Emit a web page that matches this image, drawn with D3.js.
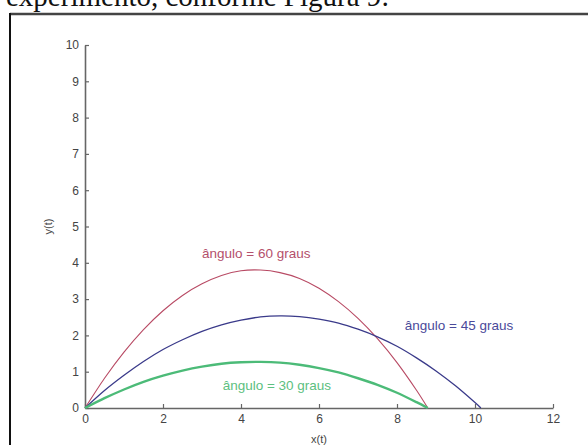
<!DOCTYPE html>
<html>
<head>
<meta charset="utf-8">
<script src="https://cdn.jsdelivr.net/npm/d3@7"></script>
<style>
  body { margin: 0; background: #fff; }
  svg { display: block; }
</style>
</head>
<body>
<svg id="chart"></svg>
<script>
// tick values
let x_ticks = [0, 2, 4, 6, 8, 10, 12];
let y_ticks = [0, 1, 2, 3, 4, 5, 6, 7, 8, 9, 10];

// trajectories, [x, y]
let traj_30 = [[0, 0], [0.5, 0.27], [1, 0.51], [1.5, 0.72], [2, 0.89], [2.5, 1.03], [3, 1.14],
    [3.5, 1.22], [4, 1.26], [4.5, 1.27], [5, 1.25], [5.5, 1.19], [6, 1.10], [6.5, 0.98],
    [7, 0.82], [7.5, 0.64], [8, 0.42], [8.5, 0.16], [8.79, 0]];
let traj_45 = [[0, 0], [0.5, 0.48], [1, 0.90], [1.5, 1.28], [2, 1.61], [2.5, 1.88], [3, 2.11],
    [3.5, 2.29], [4, 2.42], [4.5, 2.51], [5, 2.54], [5.5, 2.52], [6, 2.45], [6.5, 2.34],
    [7, 2.17], [7.5, 1.96], [8, 1.70], [8.5, 1.38], [9, 1.02], [9.5, 0.61], [10, 0.15], [10.15, 0]];
let traj_60 = [[0, 0], [0.5, 0.82], [1, 1.54], [1.5, 2.16], [2, 2.68], [2.5, 3.10], [3, 3.42],
    [3.5, 3.65], [4, 3.78], [4.5, 3.80], [5, 3.73], [5.5, 3.57], [6, 3.30], [6.5, 2.93],
    [7, 2.47], [7.5, 1.91], [8, 1.25], [8.5, 0.49], [8.79, 0]];

let labels = ["ângulo = 60 graus", "ângulo = 45 graus", "ângulo = 30 graus"];
let label_pos = [[3.0, 4.27], [8.2, 2.29], [3.53, 0.63]];

let width = 588;
let height = 445;

let svg = d3.select("#chart")
    .attr("width", width)
    .attr("height", height);

// text of the page above the figure, cut off at the top
svg.append("text")
    .attr("x", 6)
    .attr("y", 6)
    .style("font-family", "'Liberation Serif', 'Times New Roman', serif")
    .style("font-size", "29px")
    .attr("fill", "#111")
    .text("experimento, conforme Figura 9:");

// frame of the figure
svg.append("line")
    .attr("x1", 10).attr("y1", 14).attr("x2", width).attr("y2", 14)
    .attr("stroke", "#444").attr("stroke-width", 2.5);
svg.append("line")
    .attr("x1", 10).attr("y1", 13).attr("x2", 10).attr("y2", height)
    .attr("stroke", "#111").attr("stroke-width", 2);

let x = d3.scaleLinear().domain([0, 12]).range([85, 553]);
let y = d3.scaleLinear().domain([0, 10]).range([408, 45]);

let g = svg.append("g");

let x_axis = g.append("g")
    .attr("transform", "translate(0," + y(0) + ")")
    .call(d3.axisBottom(x).tickValues(x_ticks).tickSizeInner(-4).tickSizeOuter(0).tickPadding(6));

let y_axis = g.append("g")
    .attr("transform", "translate(" + x(0) + ",0)")
    .call(d3.axisLeft(y).tickValues(y_ticks).tickSizeInner(-4).tickSizeOuter(0).tickPadding(6));

[x_axis, y_axis].forEach(function(a) {
    a.select(".domain").attr("stroke", "#666").attr("stroke-width", 1.6);
    a.selectAll(".tick line").attr("stroke", "#666").attr("stroke-width", 1.2);
    a.selectAll(".tick text")
        .attr("fill", "#444")
        .style("font-family", "Arial, 'Liberation Sans', sans-serif")
        .style("font-size", "12px");
});

g.append("text")
    .attr("x", (x(0) + x(12)) / 2)
    .attr("y", 443)
    .attr("text-anchor", "middle")
    .attr("fill", "#444")
    .style("font-family", "Arial, 'Liberation Sans', sans-serif")
    .style("font-size", "11px")
    .text("x(t)");

g.append("text")
    .attr("transform", "translate(52," + ((y(0) + y(10)) / 2) + ") rotate(-90)")
    .attr("text-anchor", "middle")
    .attr("fill", "#444")
    .style("font-family", "Arial, 'Liberation Sans', sans-serif")
    .style("font-size", "11px")
    .text("y(t)");

let line = d3.line()
    .x(function(d) { return x(d[0]); })
    .y(function(d) { return y(d[1]); })
    .curve(d3.curveCardinal.tension(0.3));

let series = [
    {data: traj_60, color: "#b84a64", w: 1.1},
    {data: traj_45, color: "#3a3a8a", w: 1.3},
    {data: traj_30, color: "#4cbb78", w: 2.4}
];
let label_colors = ["#b4506c", "#4a4a9a", "#5cc080"];

g.selectAll("path.traj")
    .data(series)
    .enter().append("path")
    .attr("class", "traj")
    .attr("fill", "none")
    .attr("stroke", function(d) { return d.color; })
    .attr("stroke-width", function(d) { return d.w; })
    .attr("d", function(d) { return line(d.data); });

g.selectAll("text.lbl")
    .data(labels)
    .enter().append("text")
    .attr("class", "lbl")
    .attr("x", function(d, i) { return x(label_pos[i][0]); })
    .attr("y", function(d, i) { return y(label_pos[i][1]); })
    .attr("dy", "0.35em")
    .attr("fill", function(d, i) { return label_colors[i]; })
    .style("font-family", "Arial, 'Liberation Sans', sans-serif")
    .style("font-size", "13.5px")
    .text(function(d) { return d; });
</script>
</body>
</html>
